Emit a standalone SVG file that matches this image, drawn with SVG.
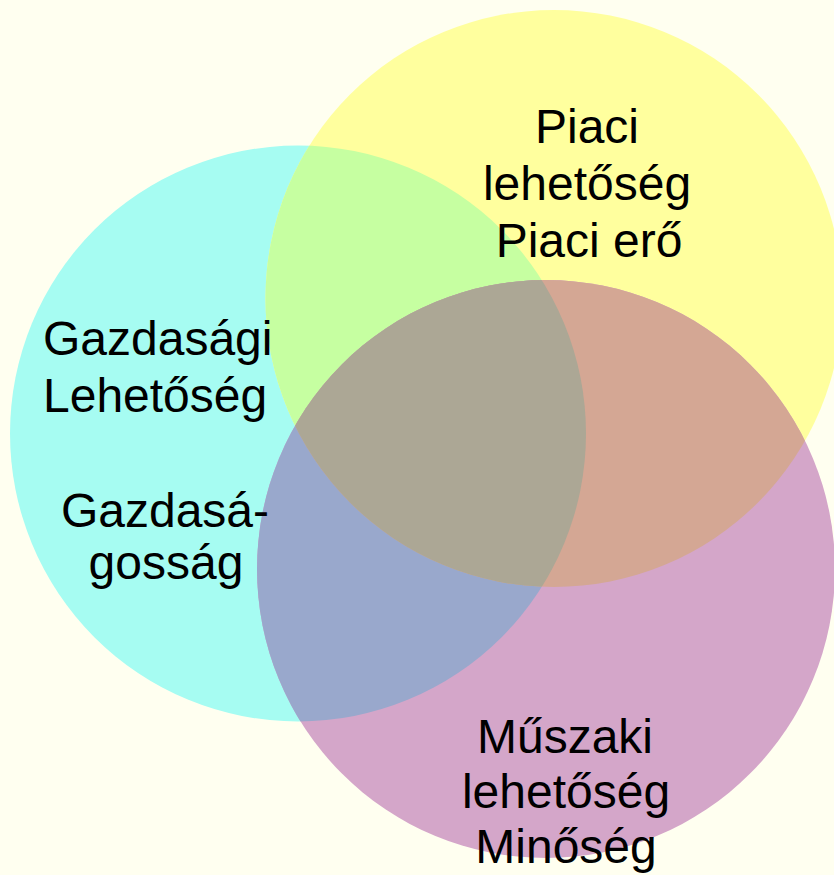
<svg xmlns="http://www.w3.org/2000/svg" width="834" height="875" viewBox="0 0 834 875">
  <style>
    .lbl { font-family: "Liberation Sans", Arial, sans-serif; font-size: 48px; fill: #000; }
    .mid { text-anchor: middle; }
  </style>
  <defs>
    <clipPath id="clipC"><circle cx="298" cy="433.5" r="288"/></clipPath>
    <clipPath id="clipY"><circle cx="554" cy="298.5" r="288.5"/></clipPath>
  </defs>
  <rect width="834" height="875" fill="#FFFFF0"/>
  <g id="circles">
    <circle id="circle-gazdasagi" cx="298" cy="433.5" r="288" fill="#A6FCF2"/>
    <circle id="circle-piaci" cx="554" cy="298.5" r="288.5" fill="#FFFF9E"/>
    <circle id="circle-muszaki" cx="546" cy="569" r="289" fill="#D4A6C9"/>
  </g>
  <g id="overlaps">
    <circle cx="554" cy="298.5" r="288.5" fill="#C6FFA1" clip-path="url(#clipC)"/>
    <circle cx="546" cy="569" r="289" fill="#99A8CC" clip-path="url(#clipC)"/>
    <circle cx="546" cy="569" r="289" fill="#D4A794" clip-path="url(#clipY)"/>
    <g clip-path="url(#clipY)">
      <circle cx="546" cy="569" r="289" fill="#ACA795" clip-path="url(#clipC)"/>
    </g>
  </g>
  <g id="node-piaci">
    <text class="lbl mid" x="587" y="143">Piaci</text>
    <text class="lbl mid" x="587" y="200">lehetőség</text>
    <text class="lbl mid" x="589" y="257">Piaci erő</text>
  </g>
  <g id="node-gazdasagi">
    <text class="lbl" x="43" y="355">Gazdasági</text>
    <text class="lbl" x="43" y="412">Lehetőség</text>
    <text class="lbl mid" x="165" y="527">Gazdasá-</text>
    <text class="lbl mid" x="166" y="579">gosság</text>
  </g>
  <g id="node-muszaki">
    <text class="lbl mid" x="565" y="753">Műszaki</text>
    <text class="lbl mid" x="566" y="808">lehetőség</text>
    <text class="lbl mid" x="566" y="863">Minőség</text>
  </g>
</svg>
